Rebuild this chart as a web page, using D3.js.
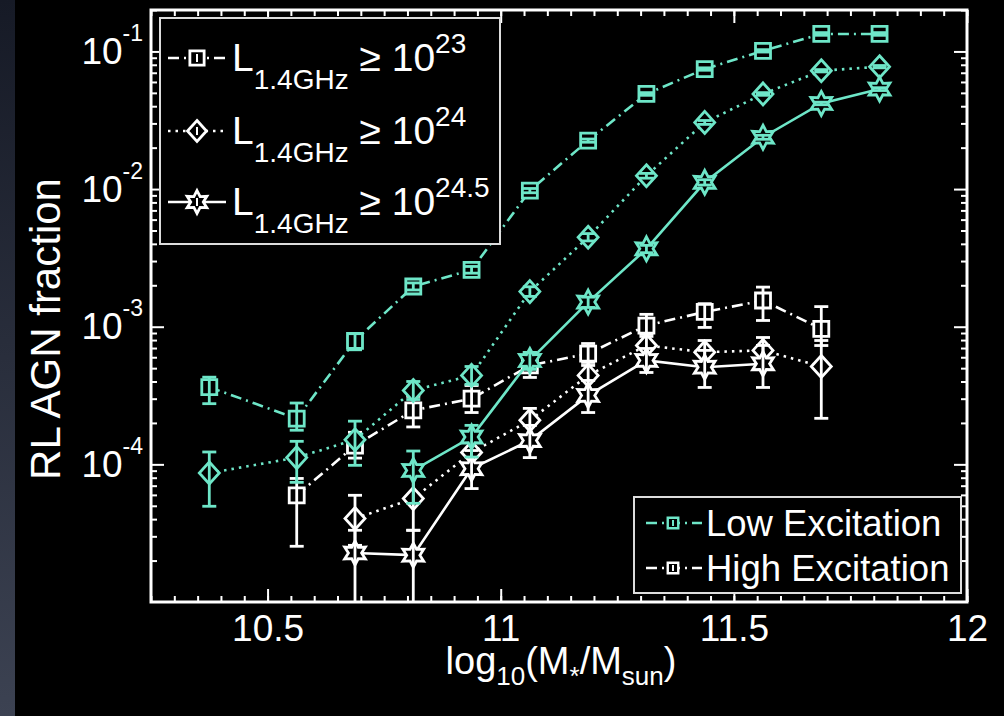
<!DOCTYPE html>
<html>
<head>
<meta charset="utf-8">
<script src="https://cdn.jsdelivr.net/npm/d3@7"></script>
<style>
  html, body { margin: 0; padding: 0; background: #000; }
  svg { display: block; }
  text { font-family: Helvetica, "Liberation Sans", Arial, sans-serif; fill: #fff; }
</style>
</head>
<body>
<div id="chart"></div>
<script>
const w = 1004, h = 716;

// x positions of the mass bins (log10 M*/Msun)
const massBins = [10.375, 10.5625, 10.6875, 10.8125, 10.9375, 11.0625, 11.1875, 11.3125, 11.4375, 11.5625, 11.6875, 11.8125];

// Low excitation (teal)
const lowL23   = [3.64e-4, 2.15e-4, 7.9e-4, 1.96e-3, 2.59e-3, 9.75e-3, 2.25e-2, 4.91e-2, 7.45e-2, 0.101, 0.134, 0.134];
const lowL23Lo = [2.76e-4, 1.77e-4, 6.8e-4, 1.85e-3, 2.45e-3, 9.4e-3, 2.19e-2, 4.8e-2, 7.3e-2, 0.099, 0.131, 0.131];
const lowL23Hi = [4.3e-4, 2.79e-4, 8.9e-4, 2.08e-3, 2.74e-3, 1.01e-2, 2.31e-2, 5.02e-2, 7.6e-2, 0.103, 0.137, 0.137];

const lowL24   = [8.65e-5, 1.12e-4, 1.51e-4, 3.44e-4, 4.43e-4, 1.80e-3, 4.47e-3, 1.25e-2, 3.05e-2, 4.91e-2, 7.24e-2, 7.74e-2];
const lowL24Lo = [4.96e-5, 7.4e-5, 9.84e-5, 2.96e-4, 3.81e-4, 1.66e-3, 4.2e-3, 1.2e-2, 2.95e-2, 4.8e-2, 7.1e-2, 7.6e-2];
const lowL24Hi = [1.23e-4, 1.47e-4, 2.06e-4, 4.0e-4, 5.14e-4, 1.95e-3, 4.75e-3, 1.3e-2, 3.15e-2, 5.02e-2, 7.38e-2, 7.9e-2];

const lowL245   = [null, null, null, 9.04e-5, 1.58e-4, 5.69e-4, 1.51e-3, 3.68e-3, 1.12e-2, 2.38e-2, 4.19e-2, 5.33e-2];
const lowL245Lo = [null, null, null, 5.21e-5, 1.13e-4, 4.9e-4, 1.38e-3, 3.45e-3, 1.07e-2, 2.3e-2, 4.1e-2, 5.2e-2];
const lowL245Hi = [null, null, null, 1.25e-4, 1.92e-4, 6.5e-4, 1.64e-3, 3.9e-3, 1.17e-2, 2.46e-2, 4.28e-2, 5.45e-2];

// High excitation (white)
const highL23   = [null, 5.96e-5, 1.37e-4, 2.47e-4, 3.0e-4, 5.23e-4, 6.37e-4, 1.02e-3, 1.28e-3, 1.55e-3, 9.66e-4, null];
const highL23Lo = [null, 2.54e-5, 1.11e-4, 1.87e-4, 2.38e-4, 4.28e-4, 5.23e-4, 8.5e-4, 9.88e-4, 1.11e-3, 7.3e-4, null];
const highL23Hi = [null, 7.9e-5, 1.71e-4, 3.12e-4, 3.74e-4, 6.5e-4, 7.55e-4, 1.23e-3, 1.47e-3, 1.94e-3, 1.40e-3, null];

const highL24   = [null, null, 4.04e-5, 5.64e-5, 1.22e-4, 2.09e-4, 4.43e-4, 7.31e-4, 6.53e-4, 6.73e-4, 5.14e-4, null];
const highL24Lo = [null, null, 2.58e-5, 3.32e-5, 9.04e-5, 1.62e-4, 3.44e-4, 5.88e-4, 5.49e-4, 5.49e-4, 2.16e-4, null];
const highL24Hi = [null, null, 5.96e-5, 9.04e-5, 1.62e-4, 2.55e-4, 5.5e-4, 8.9e-4, 7.94e-4, 8.35e-4, 7.94e-4, null];

const highL245   = [null, null, 2.27e-5, 2.19e-5, 9.31e-5, 1.49e-4, 3.17e-4, 5.69e-4, 5.08e-4, 5.38e-4, null, null];
const highL245Lo = [null, null, 0, 0, 6.67e-5, 1.12e-4, 2.38e-4, 4.65e-4, 3.62e-4, 3.62e-4, null, null]; // 0 = bar runs off the axis
const highL245Hi = [null, null, 3.32e-5, 3.32e-5, 1.26e-4, 1.92e-4, 4.07e-4, 6.95e-4, 6.73e-4, 7.31e-4, null, null];

// axis ticks
const xMajor = [10.5, 11, 11.5, 12];
const yMajor = [1e-4, 1e-3, 1e-2, 1e-1];
const yExp = ["-4", "-3", "-2", "-1"];

const teal = "#6ee6c8";
const white = "#ffffff";

const svg = d3.select("#chart").append("svg")
    .attr("width", w)
    .attr("height", h);

// slide edge on the left
const grad = svg.append("defs").append("linearGradient")
    .attr("id", "edge").attr("x1", 0).attr("x2", 0).attr("y1", 0).attr("y2", 1);
grad.append("stop").attr("offset", "0%").attr("stop-color", "#161a26");
grad.append("stop").attr("offset", "100%").attr("stop-color", "#3c4252");
svg.append("rect").attr("x", 0).attr("y", 0).attr("width", 15).attr("height", h).attr("fill", "url(#edge)");

const pLeft = 151, pRight = 967, pTop = 10, pBottom = 602;

const x = d3.scaleLinear().domain([10.25, 12]).range([pLeft, pRight]);
const y = d3.scaleLog().domain([1e-5, 0.2]).range([pBottom, pTop]).clamp(true);

// minor ticks
let xMinor = [];
for (let i = 0; i <= 35; i++) xMinor.push(10.25 + i * 0.05);
let yMinor = [];
[1e-5, 1e-4, 1e-3, 1e-2, 1e-1].forEach(function(d) {
    for (let k = 2; k <= 9; k++) if (d * k <= 0.2) yMinor.push(d * k);
});

function styleAxis(g) {
    g.select(".domain").remove();
    g.selectAll("line").attr("stroke", "#fff").attr("stroke-width", 2);
    g.selectAll("text").attr("fill", "#fff").attr("font-size", 37)
        .style("font-family", "Helvetica, 'Liberation Sans', Arial, sans-serif");
}

// x axis bottom
svg.append("g").attr("transform", "translate(0," + pBottom + ")")
    .call(d3.axisBottom(x).tickValues(xMinor).tickSize(-6).tickFormat(""))
    .call(styleAxis);
svg.append("g").attr("transform", "translate(0," + pBottom + ")")
    .call(d3.axisBottom(x).tickValues(xMajor).tickSize(-13).tickPadding(13).tickFormat(d3.format("")))
    .call(styleAxis);
// x axis top
svg.append("g").attr("transform", "translate(0," + pTop + ")")
    .call(d3.axisTop(x).tickValues(xMinor).tickSize(-6).tickFormat(""))
    .call(styleAxis);
svg.append("g").attr("transform", "translate(0," + pTop + ")")
    .call(d3.axisTop(x).tickValues(xMajor).tickSize(-13).tickFormat(""))
    .call(styleAxis);

// y axis left
svg.append("g").attr("transform", "translate(" + pLeft + ",0)")
    .call(d3.axisLeft(y).tickValues(yMinor).tickSize(-6).tickFormat(""))
    .call(styleAxis);
const yl = svg.append("g").attr("transform", "translate(" + pLeft + ",0)")
    .call(d3.axisLeft(y).tickValues(yMajor).tickSize(-13).tickPadding(8).tickFormat(""))
    .call(styleAxis);
yl.selectAll(".tick text").each(function(d, i) {
    const t = d3.select(this);
    t.attr("dy", "0.33em").attr("font-size", 37);
    t.append("tspan").text("10");
    t.append("tspan").attr("font-size", 23).attr("dy", -23).text(yExp[i]);
});
// y axis right
svg.append("g").attr("transform", "translate(" + pRight + ",0)")
    .call(d3.axisRight(y).tickValues(yMinor).tickSize(-6).tickFormat(""))
    .call(styleAxis);
svg.append("g").attr("transform", "translate(" + pRight + ",0)")
    .call(d3.axisRight(y).tickValues(yMajor).tickSize(-13).tickFormat(""))
    .call(styleAxis);

// frame
svg.append("rect")
    .attr("x", pLeft).attr("y", pTop)
    .attr("width", pRight - pLeft).attr("height", pBottom - pTop)
    .attr("fill", "none").attr("stroke", "#fff").attr("stroke-width", 3);

// axis titles
const xt = svg.append("text")
    .attr("x", (pLeft + pRight) / 2 + 2).attr("y", 674)
    .attr("text-anchor", "middle").attr("font-size", 38);
xt.append("tspan").text("log");
xt.append("tspan").attr("font-size", 26).attr("dy", 11).text("10");
xt.append("tspan").attr("dy", -11).text("(M");
xt.append("tspan").attr("font-size", 26).attr("dy", 11).text("*");
xt.append("tspan").attr("dy", -11).text("/M");
xt.append("tspan").attr("font-size", 26).attr("dy", 11).text("sun");
xt.append("tspan").attr("dy", -11).text(")");

svg.append("text")
    .attr("transform", "translate(60,329) rotate(-90)")
    .attr("text-anchor", "middle").attr("font-size", 42)
    .text("RL AGN fraction");

// marker shapes
const starPts = d3.range(12).map(function(i) {
    const a = -Math.PI / 2 + i * Math.PI / 6;
    const r = i % 2 === 0 ? 12 : 6.6;
    return [r * Math.cos(a), r * Math.sin(a)];
});
const shapes = {
    square: function(s) { s = s || 1; return "M" + (-7.5 * s) + "," + (-7.5 * s) + "h" + 15 * s + "v" + 15 * s + "h" + (-15 * s) + "Z"; },
    diamond: function(s) { s = s || 1; return "M0," + (-11 * s) + "L" + 10 * s + ",0L0," + 11 * s + "L" + (-10 * s) + ",0Z"; },
    star: function(s) { s = s || 1; return "M" + starPts.map(function(p) { return [p[0] * s, p[1] * s].join(","); }).join("L") + "Z"; }
};
const dashes = { square: "11,5,2,5", diamond: "2.5,5", star: null };

const series = [
    { name: "high23", v: highL23, lo: highL23Lo, hi: highL23Hi, color: white, shape: "square" },
    { name: "high24", v: highL24, lo: highL24Lo, hi: highL24Hi, color: white, shape: "diamond" },
    { name: "high245", v: highL245, lo: highL245Lo, hi: highL245Hi, color: white, shape: "star" },
    { name: "low23", v: lowL23, lo: lowL23Lo, hi: lowL23Hi, color: teal, shape: "square" },
    { name: "low24", v: lowL24, lo: lowL24Lo, hi: lowL24Hi, color: teal, shape: "diamond" },
    { name: "low245", v: lowL245, lo: lowL245Lo, hi: lowL245Hi, color: teal, shape: "star" }
];

const line = d3.line()
    .defined(function(d) { return d.v != null; })
    .x(function(d) { return x(d.m); })
    .y(function(d) { return y(d.v); });

function yLo(v) { return v > 0 ? y(v) : pBottom; }

series.forEach(function(s) {
    const pts = massBins.map(function(m, i) { return { m: m, v: s.v[i], lo: s.lo[i], hi: s.hi[i] }; });
    const real = pts.filter(function(d) { return d.v != null; });
    const g = svg.append("g").attr("class", s.name);

    g.append("path")
        .datum(pts)
        .attr("d", line)
        .attr("fill", "none")
        .attr("stroke", s.color)
        .attr("stroke-width", 2.6)
        .attr("stroke-dasharray", dashes[s.shape]);

    g.selectAll(".mark")
        .data(real)
        .enter().append("path")
        .attr("class", "mark")
        .attr("transform", function(d) { return "translate(" + x(d.m) + "," + y(d.v) + ")"; })
        .attr("d", shapes[s.shape]())
        .attr("fill", "#000")
        .attr("stroke", s.color)
        .attr("stroke-width", 2.8);

    const eb = g.selectAll(".err")
        .data(real)
        .enter().append("g")
        .attr("class", "err")
        .attr("transform", function(d) { return "translate(" + x(d.m) + ",0)"; })
        .attr("stroke", s.color)
        .attr("stroke-width", 2.8);
    eb.append("line")
        .attr("y1", function(d) { return yLo(d.lo); })
        .attr("y2", function(d) { return y(d.hi); });
    eb.append("line")
        .attr("x1", -7).attr("x2", 7)
        .attr("y1", function(d) { return y(d.hi); })
        .attr("y2", function(d) { return y(d.hi); });
    eb.filter(function(d) { return d.lo > 0; }).append("line")
        .attr("x1", -7).attr("x2", 7)
        .attr("y1", function(d) { return y(d.lo); })
        .attr("y2", function(d) { return y(d.lo); });
});

// legend: luminosity cuts
const leg1 = svg.append("g");
leg1.append("rect").attr("x", 160).attr("y", 18).attr("width", 340).attr("height", 226)
    .attr("fill", "#000").attr("stroke", "#ddd").attr("stroke-width", 2);
const cutShapes = ["square", "diamond", "star"];
const cutExp = ["23", "24", "24.5"];
const cutRowY = [58, 131, 202];
cutShapes.forEach(function(sh, i) {
    const ry = cutRowY[i];
    leg1.append("line").attr("x1", 168).attr("x2", 226).attr("y1", ry).attr("y2", ry)
        .attr("stroke", "#fff").attr("stroke-width", 2.6).attr("stroke-dasharray", dashes[sh]);
    leg1.append("path").attr("transform", "translate(197," + ry + ")")
        .attr("d", shapes[sh](0.95)).attr("fill", "#000").attr("stroke", "#fff").attr("stroke-width", 2.8);
    leg1.append("line").attr("x1", 197).attr("x2", 197).attr("y1", ry - 4).attr("y2", ry + 4)
        .attr("stroke", "#fff").attr("stroke-width", 2);
    const t = leg1.append("text").attr("x", 232).attr("y", ry + 13).attr("font-size", 39);
    t.append("tspan").text("L");
    t.append("tspan").attr("font-size", 28).attr("dy", 18).text("1.4GHz");
    t.append("tspan").attr("dy", -18).text(" \u2265 10");
    t.append("tspan").attr("font-size", 28).attr("dy", -18).text(cutExp[i]);
});

// legend: excitation class
const leg2 = svg.append("g");
leg2.append("rect").attr("x", 634).attr("y", 497).attr("width", 327).attr("height", 96)
    .attr("fill", "#000").attr("stroke", "#ddd").attr("stroke-width", 2);
const excNames = ["Low Excitation", "High Excitation"];
const excColors = [teal, white];
const excRowY = [523, 568];
excNames.forEach(function(n, i) {
    const ry = excRowY[i];
    leg2.append("line").attr("x1", 646).attr("x2", 702).attr("y1", ry).attr("y2", ry)
        .attr("stroke", excColors[i]).attr("stroke-width", 2.6).attr("stroke-dasharray", dashes.square);
    leg2.append("path").attr("transform", "translate(673," + ry + ")")
        .attr("d", shapes.square(0.7)).attr("fill", "#000").attr("stroke", excColors[i]).attr("stroke-width", 2.4);
    leg2.append("line").attr("x1", 673).attr("x2", 673).attr("y1", ry - 3).attr("y2", ry + 3)
        .attr("stroke", excColors[i]).attr("stroke-width", 2);
    leg2.append("text").attr("x", 706).attr("y", ry + 13).attr("font-size", 36.5).text(n);
});
</script>
</body>
</html>
